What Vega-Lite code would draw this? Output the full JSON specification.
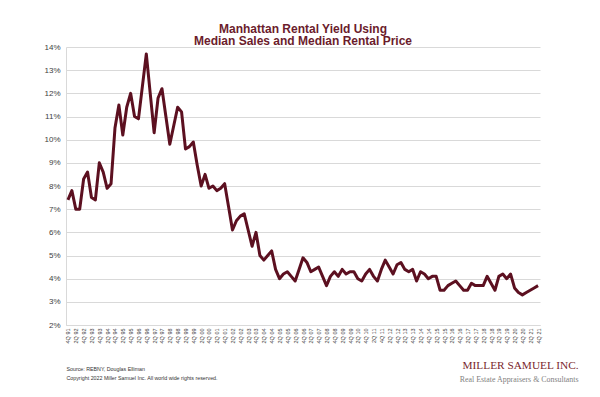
{
  "$schema": "https://vega.github.io/schema/vega-lite/v6.json",
  "background": "white",
  "padding": {"left": 43, "top": 22, "right": 0, "bottom": 0},
  "title": {
    "text": "MILLER SAMUEL INC.",
    "subtitle": "Real Estate Appraisers & Consultants",
    "orient": "bottom",
    "anchor": "end",
    "font": "Liberation Serif",
    "fontSize": 11.3,
    "fontWeight": "normal",
    "color": "#7a1f2d",
    "subtitleFont": "Liberation Serif",
    "subtitleFontSize": 7.9,
    "subtitleColor": "#7f7f7f",
    "subtitlePadding": 4,
    "dx": 37,
    "dy": -21,
    "offset": 0
  },
  "vconcat": [
    {
      "width": 474,
      "height": 278,
      "title": {
        "text": ["Manhattan Rental Yield Using", "Median Sales and Median Rental Price"],
        "anchor": "middle",
        "font": "Liberation Sans",
        "fontSize": 12,
        "fontWeight": "bold",
        "color": "#6b1c2c",
        "lineHeight": 12.5,
        "offset": -5
      },
      "data": {
        "values": [
          {"q": "4Q 91", "v": 7.4}, {"q": "1Q 92", "v": 7.8}, {"q": "2Q 92", "v": 7.0}, {"q": "3Q 92", "v": 7.0},
          {"q": "4Q 92", "v": 8.3}, {"q": "1Q 93", "v": 8.6}, {"q": "2Q 93", "v": 7.5}, {"q": "3Q 93", "v": 7.4},
          {"q": "4Q 93", "v": 9.0}, {"q": "1Q 94", "v": 8.6}, {"q": "2Q 94", "v": 7.9}, {"q": "3Q 94", "v": 8.1},
          {"q": "4Q 94", "v": 10.5}, {"q": "1Q 95", "v": 11.5}, {"q": "2Q 95", "v": 10.2}, {"q": "3Q 95", "v": 11.4},
          {"q": "4Q 95", "v": 12.0}, {"q": "1Q 96", "v": 11.0}, {"q": "2Q 96", "v": 10.9}, {"q": "3Q 96", "v": 12.3},
          {"q": "4Q 96", "v": 13.7}, {"q": "1Q 97", "v": 12.0}, {"q": "2Q 97", "v": 10.3}, {"q": "3Q 97", "v": 11.8},
          {"q": "4Q 97", "v": 12.2}, {"q": "1Q 98", "v": 11.0}, {"q": "2Q 98", "v": 9.8}, {"q": "3Q 98", "v": 10.6},
          {"q": "4Q 98", "v": 11.4}, {"q": "1Q 99", "v": 11.2}, {"q": "2Q 99", "v": 9.6}, {"q": "3Q 99", "v": 9.7},
          {"q": "4Q 99", "v": 9.9}, {"q": "1Q 00", "v": 8.9}, {"q": "2Q 00", "v": 8.0}, {"q": "3Q 00", "v": 8.5},
          {"q": "4Q 00", "v": 7.9}, {"q": "1Q 01", "v": 8.0}, {"q": "2Q 01", "v": 7.8}, {"q": "3Q 01", "v": 7.9},
          {"q": "4Q 01", "v": 8.1}, {"q": "1Q 02", "v": 7.1}, {"q": "2Q 02", "v": 6.1}, {"q": "3Q 02", "v": 6.5},
          {"q": "4Q 02", "v": 6.7}, {"q": "1Q 03", "v": 6.8}, {"q": "2Q 03", "v": 6.1}, {"q": "3Q 03", "v": 5.4},
          {"q": "4Q 03", "v": 6.0}, {"q": "1Q 04", "v": 5.0}, {"q": "2Q 04", "v": 4.8}, {"q": "3Q 04", "v": 5.0},
          {"q": "4Q 04", "v": 5.2}, {"q": "1Q 05", "v": 4.4}, {"q": "2Q 05", "v": 4.0}, {"q": "3Q 05", "v": 4.2},
          {"q": "4Q 05", "v": 4.3}, {"q": "1Q 06", "v": 4.1}, {"q": "2Q 06", "v": 3.9}, {"q": "3Q 06", "v": 4.4},
          {"q": "4Q 06", "v": 4.9}, {"q": "1Q 07", "v": 4.7}, {"q": "2Q 07", "v": 4.3}, {"q": "3Q 07", "v": 4.4},
          {"q": "4Q 07", "v": 4.5}, {"q": "1Q 08", "v": 4.1}, {"q": "2Q 08", "v": 3.7}, {"q": "3Q 08", "v": 4.1},
          {"q": "4Q 08", "v": 4.3}, {"q": "1Q 09", "v": 4.1}, {"q": "2Q 09", "v": 4.4}, {"q": "3Q 09", "v": 4.2},
          {"q": "4Q 09", "v": 4.3}, {"q": "1Q 10", "v": 4.3}, {"q": "2Q 10", "v": 4.0}, {"q": "3Q 10", "v": 3.9},
          {"q": "4Q 10", "v": 4.2}, {"q": "1Q 11", "v": 4.4}, {"q": "2Q 11", "v": 4.1}, {"q": "3Q 11", "v": 3.9},
          {"q": "4Q 11", "v": 4.4}, {"q": "1Q 12", "v": 4.8}, {"q": "2Q 12", "v": 4.5}, {"q": "3Q 12", "v": 4.2},
          {"q": "4Q 12", "v": 4.6}, {"q": "1Q 13", "v": 4.7}, {"q": "2Q 13", "v": 4.4}, {"q": "3Q 13", "v": 4.3},
          {"q": "4Q 13", "v": 4.4}, {"q": "1Q 14", "v": 3.9}, {"q": "2Q 14", "v": 4.3}, {"q": "3Q 14", "v": 4.2},
          {"q": "4Q 14", "v": 4.0}, {"q": "1Q 15", "v": 4.1}, {"q": "2Q 15", "v": 4.1}, {"q": "3Q 15", "v": 3.5},
          {"q": "4Q 15", "v": 3.5}, {"q": "1Q 16", "v": 3.7}, {"q": "2Q 16", "v": 3.8}, {"q": "3Q 16", "v": 3.9},
          {"q": "4Q 16", "v": 3.7}, {"q": "1Q 17", "v": 3.5}, {"q": "2Q 17", "v": 3.5}, {"q": "3Q 17", "v": 3.8},
          {"q": "4Q 17", "v": 3.7}, {"q": "1Q 18", "v": 3.7}, {"q": "2Q 18", "v": 3.7}, {"q": "3Q 18", "v": 4.1},
          {"q": "4Q 18", "v": 3.8}, {"q": "1Q 19", "v": 3.5}, {"q": "2Q 19", "v": 4.1}, {"q": "3Q 19", "v": 4.2},
          {"q": "4Q 19", "v": 4.0}, {"q": "1Q 20", "v": 4.2}, {"q": "2Q 20", "v": 3.6}, {"q": "3Q 20", "v": 3.4},
          {"q": "4Q 20", "v": 3.3}, {"q": "1Q 21", "v": 3.4}, {"q": "2Q 21", "v": 3.5}, {"q": "3Q 21", "v": 3.6},
          {"q": "4Q 21", "v": 3.7}
        ]
      },
      "mark": {"type": "line", "color": "#5c1020", "strokeWidth": 3, "strokeJoin": "round"},
      "encoding": {
        "x": {
          "field": "q",
          "type": "ordinal",
          "sort": null,
          "axis": {
            "labelAngle": -90,
            "labelFontSize": 5.5,
            "labelColor": "#404040",
            "labelPadding": 3,
            "labelOverlap": false,
            "labelExpr": "(slice(datum.value,0,1)=='2' || slice(datum.value,0,1)=='4') ? datum.value : ''",
            "ticks": false,
            "domain": true,
            "domainColor": "#d9d9d9",
            "grid": false,
            "title": ["Source: REBNY, Douglas Elliman", "Copyright 2022 Miller Samuel Inc.  All world wide rights reserved."],
            "titleAnchor": "start",
            "titleAlign": "left",
            "titleFont": "Liberation Sans",
            "titleFontSize": 5.3,
            "titleFontWeight": "normal",
            "titleColor": "#333333",
            "titleLineHeight": 9,
            "titlePadding": 24
          }
        },
        "y": {
          "field": "v",
          "type": "quantitative",
          "scale": {"domain": [2, 14], "nice": false},
          "axis": {
            "values": [2, 3, 4, 5, 6, 7, 8, 9, 10, 11, 12, 13, 14],
            "labelExpr": "datum.value + '%'",
            "labelFontSize": 8,
            "labelColor": "#404040",
            "labelPadding": 6,
            "ticks": false,
            "domain": true,
            "domainColor": "#d9d9d9",
            "grid": true,
            "gridColor": "#d9d9d9",
            "title": null,
            "minExtent": 20,
            "maxExtent": 20
          }
        }
      }
    }
  ],
  "config": {
    "font": "Liberation Sans",
    "view": {"stroke": null}
  }
}
